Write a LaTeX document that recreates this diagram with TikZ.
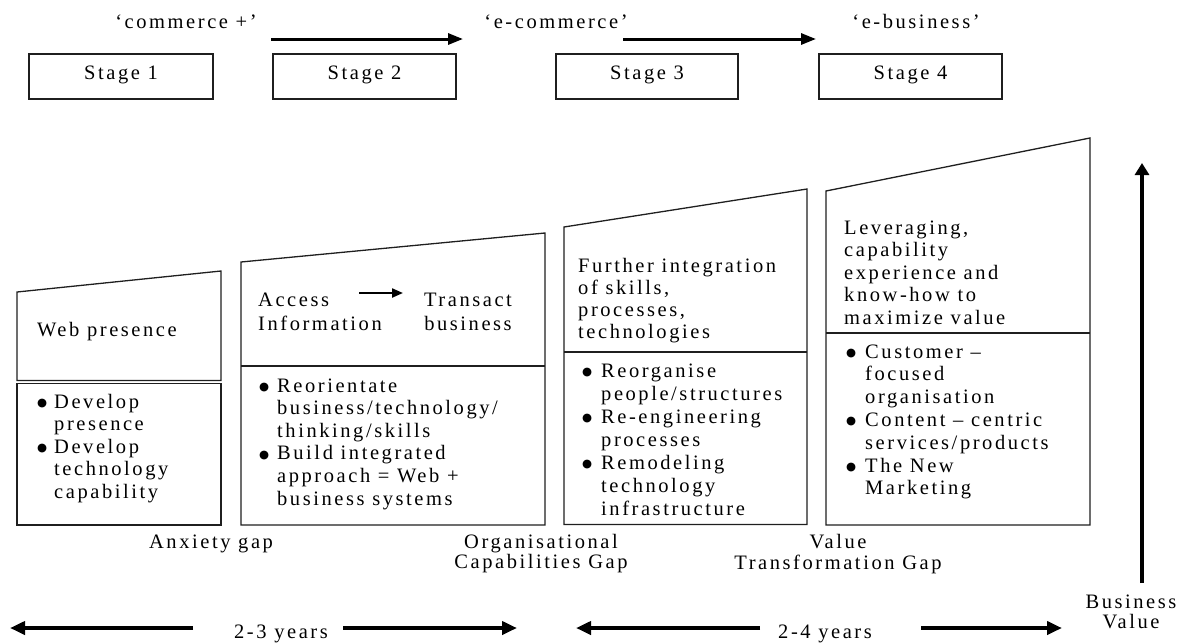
\documentclass[tikz,border=0pt]{standalone}
\usepackage{fontspec}
\setmainfont{Liberation Serif}[LetterSpace=12.5]
\newfontfamily\dotfont{DejaVu Sans}
\usetikzlibrary{arrows.meta}

% body text size with a chosen line pitch
\newcommand{\bodysize}[1]{\fontsize{20.5}{#1}\selectfont}
% list bullet and its hanging indent
\newcommand{\dotmark}{\raisebox{1.6pt}{\fontsize{11.5}{11.5}\dotfont ●}}
\newcommand{\itm}[1]{\makebox[#1][l]{\dotmark}}
% block of lines, baseline on the first line
\newcommand{\txtblock}[2]{\parbox[t]{320pt}{\bodysize{#1}\raggedright #2}}
\newcommand{\ctrblock}[3]{\parbox[t]{#1}{\bodysize{#2}\centering #3}}

\begin{document}
\begin{tikzpicture}[x=1pt,y=-1pt,line join=miter]
\tikzset{
  frame/.style={draw=black!88,line width=1.3pt},
  stagebox/.style={draw=black!88,line width=1.5pt,rectangle,inner sep=0pt,
    minimum height=45pt,font=\bodysize{22},text height=10pt,text depth=5pt},
  txt/.style={inner sep=0pt,font=\bodysize{22.5}},
  flow/.style={line width=3pt,-{Triangle[length=15pt,width=11pt]}},
  span/.style={line width=4pt,-{Triangle[length=15pt,width=13pt]}},
  rise/.style={line width=3.5pt,-{Triangle[length=12pt,width=14pt]}},
  small/.style={line width=2.2pt,-{Triangle[length=11pt,width=9pt]}}
}
\useasboundingbox (0,0) rectangle (1185,643);

% ---- stage row ----
\node[stagebox,minimum width=184pt] (s1) at (121,76.5) {Stage 1};
\node[stagebox,minimum width=183pt] (s2) at (364.5,76.5) {Stage 2};
\node[stagebox,minimum width=182pt] (s3) at (647,76.5) {Stage 3};
\node[stagebox,minimum width=183pt] (s4) at (910.5,76.5) {Stage 4};

\node[txt,anchor=base] (lc) at (186,28) {‘commerce +’};
\node[txt,anchor=base] (le) at (556,28) {‘e-commerce’};
\node[txt,anchor=base] (lb) at (916,28) {‘e-business’};

\coordinate (f1a) at (271,39); \coordinate (f1b) at (463,39);
\coordinate (f2a) at (623,39); \coordinate (f2b) at (816,39);
\draw[flow] (f1a) -- (f1b);
\draw[flow] (f2a) -- (f2b);

% ---- stage 1 column ----
\draw[frame] (17,292) -- (221,271) -- (221,380.5) -- (17,380.5) -- cycle;
\draw[frame] (17,383.5) rectangle (221,525);
\node[txt,anchor=base west] (c1top) at (37,336) {Web presence};
\node[txt,anchor=base west] (c1list) at (37,408) {\txtblock{22.5}{%
  \itm{17pt}Develop\\
  \hspace*{17pt}presence\\
  \itm{17pt}Develop\\
  \hspace*{17pt}technology\\
  \hspace*{17pt}capability}};

% ---- stage 2 column ----
\draw[frame] (241,262) -- (545,233) -- (545,525) -- (241,525) -- cycle;
\draw[frame] (241,366) -- (545,366);
\node[txt,anchor=base west] (c2from) at (258,306) {\txtblock{24}{Access\\Information}};
\node[txt,anchor=base] (c2to) at (468,306) {\ctrblock{130pt}{24}{Transact\\business}};
\coordinate (c2a) at (359,293); \coordinate (c2b) at (403,293);
\draw[small] (c2a) -- (c2b);
\node[txt,anchor=base west] (c2list) at (259,392) {\txtblock{22.6}{%
  \itm{18pt}Reorientate\\
  \hspace*{18pt}business/technology/\\
  \hspace*{18pt}thinking/skills\\
  \itm{18pt}Build integrated\\
  \hspace*{18pt}approach = Web +\\
  \hspace*{18pt}business systems}};

% ---- stage 3 column ----
\draw[frame] (564,227) -- (807,189) -- (807,524.5) -- (564,524.5) -- cycle;
\draw[frame] (564,352) -- (807,352);
\node[txt,anchor=base west] (c3top) at (578,272) {\txtblock{22}{%
  Further integration\\of skills,\\processes,\\technologies}};
\node[txt,anchor=base west] (c3list) at (582,377) {\txtblock{23}{%
  \itm{19pt}Reorganise\\
  \hspace*{19pt}people/structures\\
  \itm{19pt}Re-engineering\\
  \hspace*{19pt}processes\\
  \itm{19pt}Remodeling\\
  \hspace*{19pt}technology\\
  \hspace*{19pt}infrastructure}};

% ---- stage 4 column ----
\draw[frame] (826,191) -- (1090,138) -- (1090,525) -- (826,525) -- cycle;
\draw[frame] (826,333) -- (1090,333);
\node[txt,anchor=base west] (c4top) at (844,234) {\txtblock{22.5}{%
  Leveraging,\\capability\\experience and\\know-how to\\maximize value}};
\node[txt,anchor=base west] (c4list) at (846,358) {\txtblock{22.8}{%
  \itm{19pt}Customer –\\
  \hspace*{19pt}focused\\
  \hspace*{19pt}organisation\\
  \itm{19pt}Content – centric\\
  \hspace*{19pt}services/products\\
  \itm{19pt}The New\\
  \hspace*{19pt}Marketing}};

% ---- gaps ----
\node[txt,anchor=base] (g1) at (211,548) {Anxiety gap};
\node[txt,anchor=base] (g2) at (541,548) {\ctrblock{220pt}{20}{Organisational\\Capabilities Gap}};
\node[txt,anchor=base] (g3) at (838,548) {\ctrblock{240pt}{21}{Value\\Transformation Gap}};

% ---- business value axis ----
\coordinate (va) at (1142,583); \coordinate (vb) at (1142,163);
\draw[rise] (va) -- (vb);
\node[txt,anchor=base] (bv) at (1131,608) {\ctrblock{100pt}{20}{Business\\Value}};

% ---- time spans ----
\node[txt,anchor=base] (y1) at (281,638) {2-3 years};
\node[txt,anchor=base] (y2) at (825,638) {2-4 years};
\coordinate (p1a) at (193,628); \coordinate (p1b) at (10,628);
\coordinate (p2a) at (343,628); \coordinate (p2b) at (517,628);
\coordinate (p3a) at (760,628); \coordinate (p3b) at (576,628);
\coordinate (p4a) at (921,628); \coordinate (p4b) at (1062,628);
\draw[span] (p1a) -- (p1b);
\draw[span] (p2a) -- (p2b);
\draw[span] (p3a) -- (p3b);
\draw[span] (p4a) -- (p4b);
\end{tikzpicture}
\end{document}
